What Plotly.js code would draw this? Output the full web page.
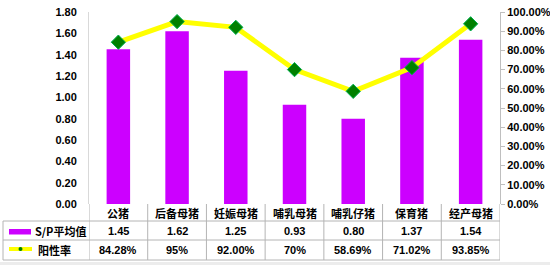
<!DOCTYPE html>
<html><head><meta charset="utf-8">
<script src="https://cdn.plot.ly/plotly-3.0.1.min.js"></script>
<style>html,body{margin:0;padding:0;background:#fff}#c{width:550px;height:265px}</style>
</head><body><div id="c"></div>
<script>
const categories = ['公猪','后备母猪','妊娠母猪','哺乳母猪','哺乳仔猪','保育猪','经产母猪'];
const spValues = [1.45, 1.62, 1.25, 0.93, 0.80, 1.37, 1.54];
const spLabels = ['1.45','1.62','1.25','0.93','0.80','1.37','1.54'];
const positiveRate = [0.8428, 0.95, 0.92, 0.70, 0.5869, 0.7102, 0.9385];
const rateLabels = ['84.28%','95%','92.00%','70%','58.69%','71.02%','93.85%'];
const seriesNames = ['S/P平均值','阳性率'];

const W = 550, H = 265;
const L = 89, R = 500, T = 12, B = 204;
const pw = R - L, ph = B - T;
const px = x => (x - L) / pw;
const py = y => (B - y) / ph;

const fontNum = {family:'"Liberation Sans", Arial, sans-serif', size:11, color:'#000', weight:'bold'};
const fontCJK = {family:'"Noto Sans CJK SC", sans-serif', size:11, color:'#000', weight:'bold'};
const grid = '#b4b4b4';

const traces = [
  {type:'bar', x:categories, y:spValues, name:seriesNames[0], marker:{color:'#CC00FF'}, yaxis:'y', hoverinfo:'none'},
  {type:'scatter', mode:'lines+markers', x:categories, y:positiveRate, name:seriesNames[1], yaxis:'y2',
   line:{color:'#FFFF00', width:5}, marker:{symbol:'diamond', size:11, color:'#008000', line:{color:'#00b050', width:1}}, hoverinfo:'none'}
];

const shapes = [];
const annotations = [];
const n = categories.length;
// table grid
const rowLines = [221, 240, 260];
rowLines.forEach(y => shapes.push({type:'line', xref:'paper', yref:'paper', x0:px(3), x1:px(R), y0:py(y), y1:py(y), line:{color:grid, width:1}}));
for (let i = 0; i <= n; i++) {
  shapes.push({type:'line', xref:'x', yref:'paper', x0:i-0.5, x1:i-0.5, y0:py(B), y1:py(260), line:{color:grid, width:1}});
}
shapes.push({type:'line', xref:'paper', yref:'paper', x0:px(3), x1:px(3), y0:py(221), y1:py(260), line:{color:grid, width:1}});
// bottom light strip
shapes.push({type:'rect', xref:'paper', yref:'paper', x0:px(0), x1:px(W), y0:py(262), y1:py(H), fillcolor:'#ececec', line:{width:0}});
// legend keys
shapes.push({type:'rect', xref:'paper', yref:'paper', x0:px(9), x1:px(31), y0:py(229), y1:py(234.5), fillcolor:'#CC00FF', line:{width:0}});
shapes.push({type:'line', xref:'paper', yref:'paper', x0:px(9), x1:px(32), y0:py(249), y1:py(249), line:{color:'#FFFF00', width:4}});
shapes.push({type:'circle', xref:'paper', yref:'paper', x0:px(18.5), x1:px(22.5), y0:py(247), y1:py(251), fillcolor:'#008000', line:{width:0}});

annotations.push({xref:'paper', yref:'paper', x:px(33), y:py(231), text:seriesNames[0], showarrow:false, xanchor:'left', yanchor:'middle', font:fontCJK});
annotations.push({xref:'paper', yref:'paper', x:px(36), y:py(250), text:seriesNames[1], showarrow:false, xanchor:'left', yanchor:'middle', font:fontCJK});

categories.forEach((c, i) => {
  annotations.push({xref:'x', yref:'paper', x:c, y:py(213), text:c, showarrow:false, yanchor:'middle', font:fontCJK});
  annotations.push({xref:'x', yref:'paper', x:c, y:py(231), text:spLabels[i], showarrow:false, yanchor:'middle', font:fontNum});
  annotations.push({xref:'x', yref:'paper', x:c, y:py(250), text:rateLabels[i], showarrow:false, yanchor:'middle', font:fontNum});
});

const layout = {
  width:W, height:H,
  margin:{l:L, r:W-R, t:T, b:H-B, pad:0},
  paper_bgcolor:'#fff', plot_bgcolor:'#fff',
  showlegend:false,
  bargap:0.6,
  xaxis:{type:'category', showticklabels:false, ticks:'', showgrid:false, zeroline:false, showline:false, range:[-0.5, n-0.5], fixedrange:true},
  yaxis:{range:[0,1.8], dtick:0.2, tickformat:'.2f', showgrid:false, zeroline:false, showline:true, linecolor:'#d9d9d9', linewidth:1,
         ticks:'', ticklabelstandoff:9, tickfont:fontNum},
  yaxis2:{overlaying:'y', side:'right', range:[0,1], dtick:0.1, tickformat:'.2%', showgrid:false, zeroline:false,
          showline:true, linecolor:'#bfbfbf', linewidth:1, ticks:'outside', ticklen:4, tickcolor:'#bfbfbf', tickfont:fontNum},
  shapes, annotations
};
Plotly.newPlot('c', traces, layout, {staticPlot:true, displayModeBar:false});
</script></body></html>
